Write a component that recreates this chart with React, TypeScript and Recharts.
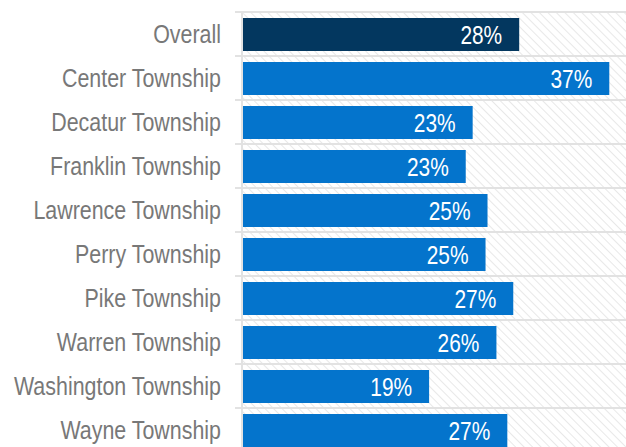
import React from "react";
import {
  BarChart,
  Bar,
  XAxis,
  YAxis,
  CartesianGrid,
  Cell,
  LabelList,
} from "recharts";

const townships = [
  "Overall",
  "Center Township",
  "Decatur Township",
  "Franklin Township",
  "Lawrence Township",
  "Perry Township",
  "Pike Township",
  "Warren Township",
  "Washington Township",
  "Wayne Township",
];

const shares = [28.0, 37.1, 23.3, 22.6, 24.8, 24.6, 27.4, 25.7, 18.9, 26.8];

const xTicks = [0, 10, 20, 30, 40];

const FONT = "'Liberation Sans', Arial, sans-serif";
const NARROW = 0.84; // squeeze to look like a narrow face
const NAVY = "#03375f";
const BLUE = "#0474cc";
const GRID = "#e2e2e2";

const data = townships.map((name, i) => ({ name, value: shares[i] }));

// grid lines sit on the band edges, not the band centres
const bandEdges = ({ offset }: { offset: { top: number; height: number } }) => {
  const band = offset.height / townships.length;
  return Array.from({ length: townships.length + 1 }, (_, i) => offset.top + i * band);
};

const NarrowTick = (props: any) => {
  const { x, y, payload } = props;
  return (
    <g transform={`translate(${x},${y})`}>
      <text
        transform={`scale(${NARROW},1)`}
        textAnchor="end"
        dy="0.355em"
        fill="#787878"
        fontSize={25.5}
        fontFamily={FONT}
      >
        {payload.value}
      </text>
    </g>
  );
};

const BarValue = (props: any) => {
  const { x, y, width, height, value } = props;
  return (
    <g transform={`translate(${x + width - 17},${y + height / 2})`}>
      <text
        transform={`scale(0.82,1)`}
        textAnchor="end"
        dy="0.355em"
        fill="#ffffff"
        fontSize={25.5}
        fontFamily={FONT}
      >
        {`${Math.round(value)}%`}
      </text>
    </g>
  );
};

export default function App() {
  return (
    <div
      style={{
        position: "fixed",
        top: 0,
        left: 0,
        width: 626,
        height: 447,
        overflow: "hidden",
        background: "#fff",
      }}
    >
      <BarChart
        width={640}
        height={457}
        data={data}
        layout="vertical"
        barSize={33}
        margin={{ top: 12, right: 2, left: 0, bottom: 5 }}
      >
        <defs>
          <pattern
            id="hatch"
            width="6"
            height="6"
            patternUnits="userSpaceOnUse"
            patternTransform="rotate(-45)"
          >
            <rect width="6" height="6" fill="#ffffff" />
            <line x1="0" y1="0" x2="0" y2="6" stroke="#dedede" strokeWidth="1.4" />
          </pattern>
        </defs>
        <CartesianGrid
          fill="url(#hatch)"
          fillOpacity={1}
          horizontal={false}
          stroke={GRID}
          strokeWidth={2}
        />
        <CartesianGrid
          x={235}
          width={403}
          vertical={false}
          horizontalCoordinatesGenerator={bandEdges}
          stroke={GRID}
          strokeWidth={2}
        />
        <XAxis
          type="number"
          domain={[0, 40]}
          ticks={xTicks}
          tick={false}
          axisLine={false}
          tickLine={false}
          height={0}
        />
        <Bar dataKey="value" isAnimationActive={false}>
          {data.map((d, i) => (
            <Cell key={d.name} fill={i === 0 ? NAVY : BLUE} />
          ))}
          <LabelList dataKey="value" content={<BarValue />} />
        </Bar>
        <YAxis
          type="category"
          dataKey="name"
          width={242}
          axisLine={{ stroke: GRID, strokeWidth: 2 }}
          tickLine={false}
          tickSize={0}
          tickMargin={21}
          interval={0}
          tick={<NarrowTick />}
        />
      </BarChart>
    </div>
  );
}
